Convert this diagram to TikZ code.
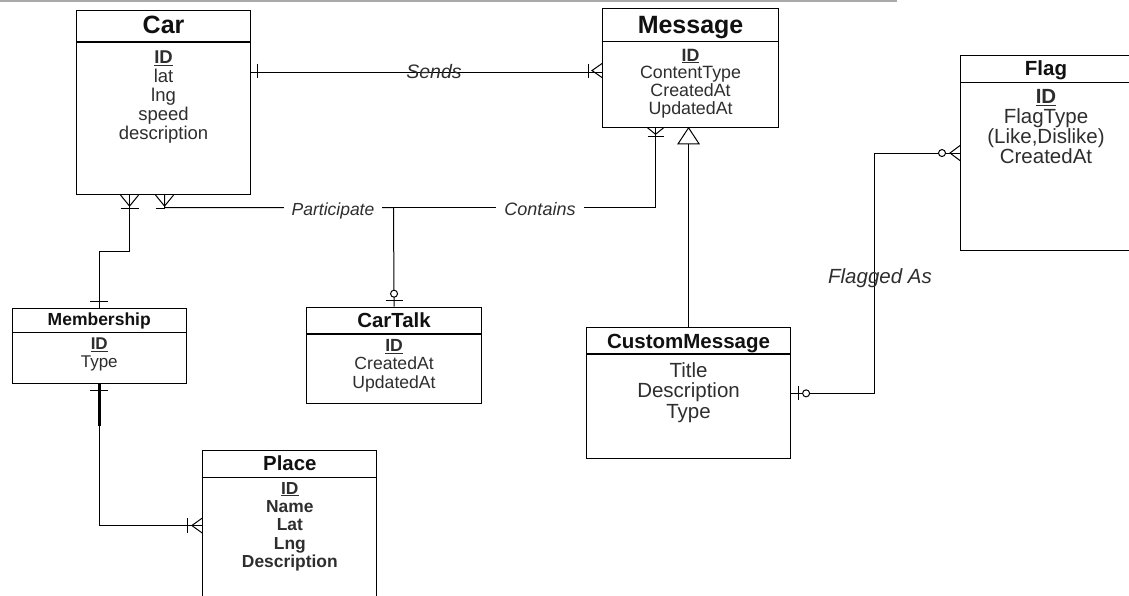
\documentclass[tikz,border=0pt]{standalone}
\usepackage{fontspec}
\setmainfont{Liberation Sans}
\usepackage{xcolor}
\definecolor{InkGray}{HTML}{2E2E2E}
\definecolor{TitleInk}{HTML}{111111}
\definecolor{RuleGray}{HTML}{A9A9A9}
\usetikzlibrary{calc}

\begin{document}
\begin{tikzpicture}[x=1pt,y=1pt]
\tikzset{
  entity/.style={draw=black,line width=1.1pt,fill=white,inner sep=0pt,anchor=north west},
  ehead/.style={inner sep=0pt,text depth=0pt,text=TitleInk,font=\bfseries\fontsize{#1}{#1}\selectfont},
  eattr/.style 2 args={anchor=north,inner sep=0pt,align=center,text=InkGray,font=\fontsize{#1}{#2}\selectfont},
  conn/.style={draw=black,line width=1pt},
  lbl/.style={inner sep=0pt,text depth=0pt,text=InkGray,font=\itshape\fontsize{18}{18}\selectfont}
}
\useasboundingbox (0,0) rectangle (1129,-596);
\clip (0,0) rectangle (1129,-596);
\draw[RuleGray,line width=2pt] (0,-1) -- (897,-1);

% entities: box, header rule, title, attributes
\node[entity,minimum width=174,minimum height=184] (car) at (76,-10) {};
\draw[line width=1.1pt] ([yshift=-32pt]car.north west) -- ([yshift=-32pt]car.north east);
\node[ehead=25] (carT) at ([yshift=-15pt]car.north) {Car};
\node[eattr={18.5}{19}] (carA) at ([yshift=-40.4pt]car.north) {\underline{\textbf{ID}}\\lat\\lng\\speed\\description};

\node[entity,minimum width=176,minimum height=118.4] (msg) at (602,-8.3) {};
\draw[line width=1.1pt] ([yshift=-33.4pt]msg.north west) -- ([yshift=-33.4pt]msg.north east);
\node[ehead=25] (msgT) at ([yshift=-16.7pt]msg.north) {Message};
\node[eattr={17.8}{17.8}] (msgA) at ([yshift=-40.3pt]msg.north) {\underline{\textbf{ID}}\\ContentType\\CreatedAt\\UpdatedAt};

% Flag runs off the right edge of the sheet
\node[entity,minimum width=190,minimum height=195] (flag) at (960,-55) {};
\draw[line width=1.1pt] ([yshift=-27.7pt]flag.north west) -- ([yshift=-27.7pt]flag.north east);
\node[ehead=20.5] (flagT) at ([xshift=86pt,yshift=-13.3pt]flag.north west) {Flag};
\node[eattr={20.5}{20}] (flagA) at ([xshift=86pt,yshift=-34.4pt]flag.north west) {\underline{\textbf{ID}}\\FlagType\\(Like,Dislike)\\CreatedAt};

\node[entity,minimum width=174,minimum height=75.8] (memb) at (11.7,-307.5) {};
\draw[line width=1.1pt] ([yshift=-25.2pt]memb.north west) -- ([yshift=-25.2pt]memb.north east);
\node[ehead=17.5] (membT) at ([yshift=-12pt]memb.north) {Membership};
\node[eattr={17}{17.7}] (membA) at ([yshift=-30.4pt]memb.north) {\underline{\textbf{ID}}\\Type};

\node[entity,minimum width=175,minimum height=96.6] (talk) at (306,-306.7) {};
\draw[line width=1.1pt] ([yshift=-27.3pt]talk.north west) -- ([yshift=-27.3pt]talk.north east);
\node[ehead=20.4] (talkT) at ([yshift=-13.3pt]talk.north) {CarTalk};
\node[eattr={17.6}{18.2}] (talkA) at ([yshift=-32.7pt]talk.north) {\underline{\textbf{ID}}\\CreatedAt\\UpdatedAt};

\node[entity,minimum width=204,minimum height=131] (cmsg) at (586,-327.3) {};
\draw[line width=1.1pt] ([yshift=-26.7pt]cmsg.north west) -- ([yshift=-26.7pt]cmsg.north east);
\node[ehead=20.5] (cmsgT) at ([yshift=-14.4pt]cmsg.north) {CustomMessage};
\node[eattr={20.5}{20.5}] (cmsgA) at ([yshift=-35.1pt]cmsg.north) {Title\\Description\\Type};

\node[entity,minimum width=174,minimum height=160] (place) at (202.3,-450) {};
\draw[line width=1.1pt] ([yshift=-27.3pt]place.north west) -- ([yshift=-27.3pt]place.north east);
\node[ehead=20.4] (placeT) at ([yshift=-13pt]place.north) {Place};
\node[eattr={17.4}{18.3},font=\bfseries\fontsize{17.4}{18.3}\selectfont] (placeA) at ([yshift=-32.1pt]place.north)
  {\underline{ID}\\Name\\Lat\\Lng\\Description};

% relationships
\coordinate (jn) at (393.5,-207.5);
\coordinate (fk) at (874,0);
\draw[conn,line width=.8pt,double,double distance=2.4pt] ([yshift=32pt]car.east) -- ([yshift=32pt]car.east -| msg.west);
\draw[conn] ([xshift=1pt]car.south) |- (jn) -- (talk.north);
\draw[conn] ([xshift=-8pt,yshift=-13.5pt]car.south) -- ++(9,0);
\draw[conn] ([xshift=-35pt]msg.south) |- (jn);
\draw[conn] ([xshift=-34pt]car.south) -- ++(0,-56.7) -| (memb.north);
\draw[conn] (memb.south) |- ([yshift=5pt]place.west);
\draw[black,line width=2.6pt] (memb.south) -- ++(0,-42);
\draw[conn] (cmsg.north) -- ($(cmsg.north |- msg.south)+(0,-16)$);
\draw[conn] (cmsg.east) -| (fk |- flag.west) -- (flag.west);

% cardinality marks
\draw[conn] ([xshift=6pt,yshift=39pt]car.east) -- ++(0,-14);
\draw[conn] ([xshift=-14pt,yshift=4.5pt]msg.west) -- ++(0,-14);
\draw[conn] ([yshift=4.5pt]msg.west) -- ++(-10,-7) -- ++(10,-7);
\draw[conn] ([xshift=-43pt]car.south) -- ++(9,-11) -- ++(9,11);
\draw[conn] ([xshift=-43pt,yshift=-13.5pt]car.south) -- ++(18,0);
\draw[conn] ([xshift=-8pt]car.south) -- ++(9,-11) -- ++(9,11);
\draw[conn] ([xshift=-9pt,yshift=6pt]memb.north) -- ++(18,0);
\draw[conn] ([xshift=-9pt,yshift=-6pt]memb.south) -- ++(18,0);
\draw[conn] ([xshift=-15pt,yshift=12.5pt]place.west) -- ++(0,-15);
\draw[conn] ([yshift=12.5pt]place.west) -- ++(-10.5,-7.5) -- ++(10.5,-7.5);
\draw[conn] ([xshift=-8.5pt,yshift=6.5pt]talk.north) -- ++(17,0);
\draw[conn,fill=white] ([yshift=13pt]talk.north) circle[radius=3.5];
\draw[conn] ([xshift=-43pt]msg.south) -- ++(8,-6.5) -- ++(8,6.5);
\draw[conn] ([xshift=-43pt,yshift=-9pt]msg.south) -- ++(16,0);
\draw[conn,fill=white] (cmsg.north |- msg.south) -- ++(-10.5,-16) -- ++(21,0) -- cycle;
\draw[conn] ([xshift=7.3pt,yshift=7pt]cmsg.east) -- ++(0,-14);
\draw[conn,fill=white] ([xshift=15pt]cmsg.east) circle[radius=3.5];
\draw[conn] ([yshift=7.5pt]flag.west) -- ++(-10,-7.5) -- ++(10,-7.5);
\draw[conn,fill=white] ([xshift=-18pt]flag.west) circle[radius=3.5];

% relationship names
\node[lbl,font=\itshape\fontsize{19.5}{19.5}\selectfont] (lSends) at (434,-71) {Sends};
\node[lbl,fill=white,inner xsep=8pt,inner ysep=2pt,font=\itshape\fontsize{17.5}{17.5}\selectfont] (lPart) at (333,-209) {Participate};
\node[lbl,fill=white,inner xsep=8pt,inner ysep=2pt] (lCont) at (540,-209) {Contains};
\node[lbl,font=\itshape\fontsize{20.5}{20.5}\selectfont] (lFlag) at (880,-276) {Flagged As};
\end{tikzpicture}
\end{document}
